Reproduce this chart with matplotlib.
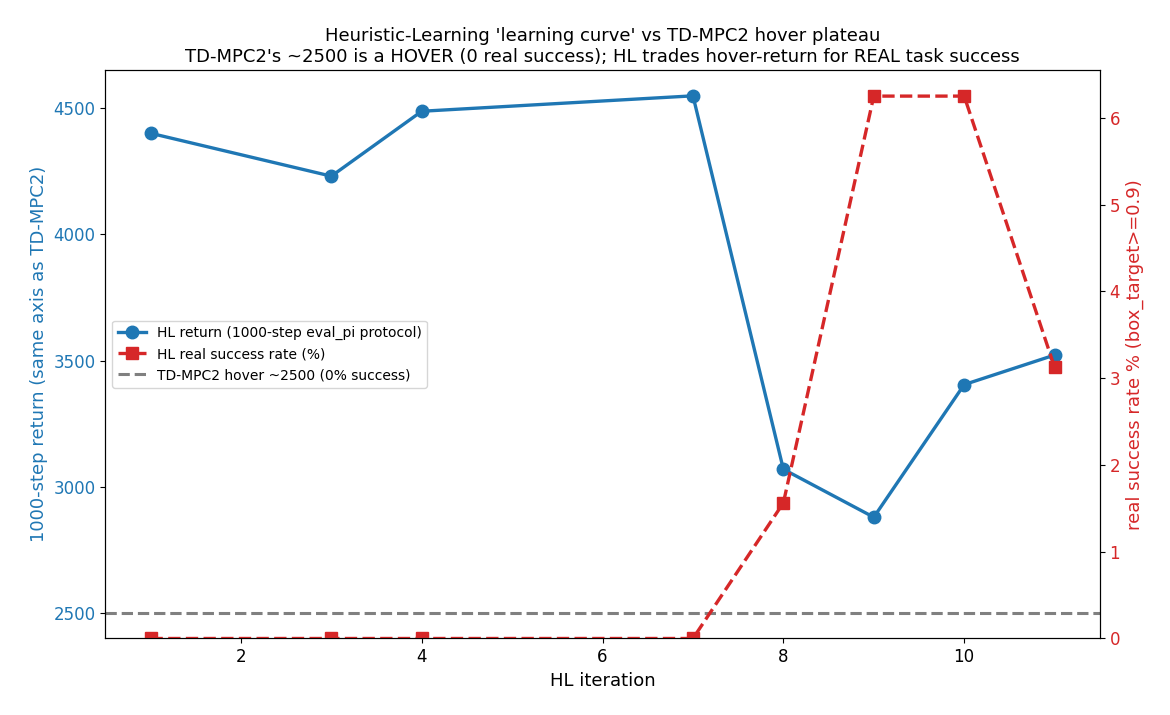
import matplotlib
matplotlib.use("Agg")
from matplotlib import pyplot as plt
from matplotlib.ticker import MultipleLocator

iterations = [1, 3, 4, 7, 8, 9, 10, 11]
hl_return = [4400, 4230, 4487, 4548, 3070, 2880, 3405, 3522]
success_rate = [0, 0, 0, 0, 1.5625, 6.25, 6.25, 3.125]
tdmpc2_hover = 2500

fig, ax = plt.subplots(figsize=(11.7, 7.15), dpi=100)
ax2 = ax.twinx()

l1, = ax.plot(iterations, hl_return, "o-", color="tab:blue", lw=2.4, ms=9,
              label="HL return (1000-step eval_pi protocol)")
l2, = ax2.plot(iterations, success_rate, "s--", color="tab:red", lw=2.4, ms=9,
               label="HL real success rate (%)")
l3 = ax.axhline(tdmpc2_hover, color="gray", ls="--", lw=2.2,
                label="TD-MPC2 hover ~2500 (0% success)")

ax.set_ylim(2400, 4650)
ax2.set_ylim(0, 6.55)
ax.yaxis.set_major_locator(MultipleLocator(500))

ax.set_xlabel("HL iteration", fontsize=13)
ax.set_ylabel("1000-step return (same axis as TD-MPC2)", color="tab:blue", fontsize=13)
ax2.set_ylabel("real success rate % (box_target>=0.9)", color="tab:red", fontsize=13)
ax.tick_params(axis="y", labelcolor="tab:blue", labelsize=12)
ax2.tick_params(axis="y", labelcolor="tab:red", labelsize=12)
ax.tick_params(axis="x", labelsize=12)

ax.legend(handles=[l1, l2, l3], loc="center left", fontsize=10)
ax.set_title("Heuristic-Learning 'learning curve' vs TD-MPC2 hover plateau\n"
             "TD-MPC2's ~2500 is a HOVER (0 real success); HL trades hover-return for REAL task success",
             fontsize=13)

fig.subplots_adjust(left=0.09, right=0.94, top=0.902, bottom=0.107)
fig.savefig("out.png", dpi=100)
